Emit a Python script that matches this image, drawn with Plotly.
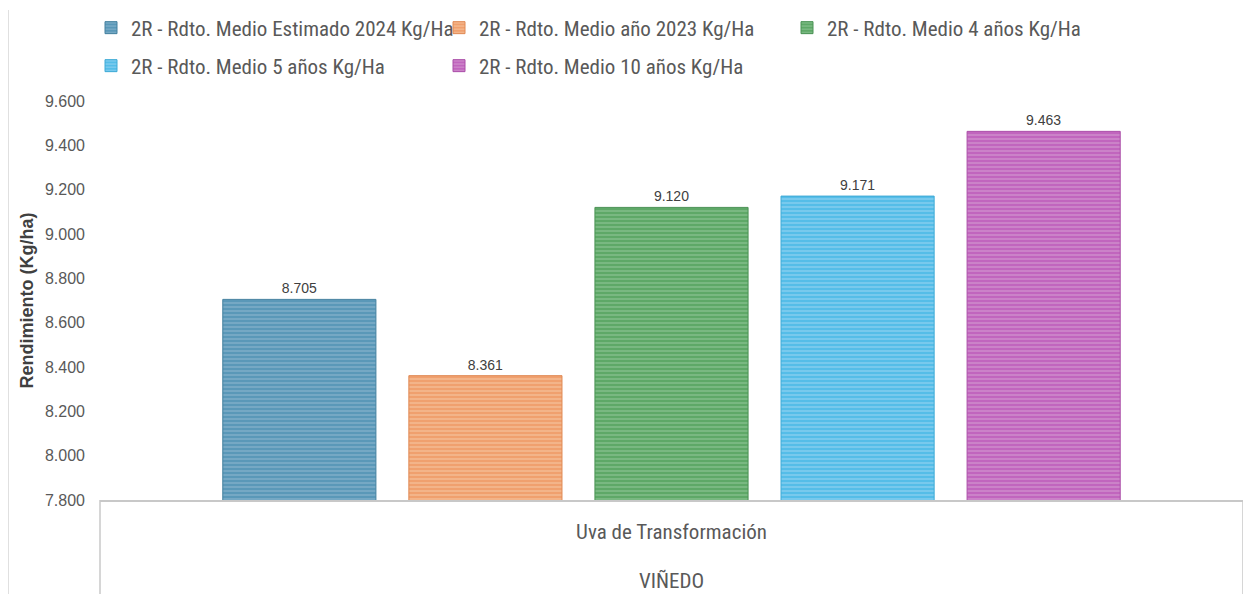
import plotly.graph_objects as go

categories = ["Uva de Transformación"]
group_label = "VIÑEDO"
series_names = [
    "2R - Rdto. Medio Estimado 2024 Kg/Ha",
    "2R - Rdto. Medio año 2023 Kg/Ha",
    "2R - Rdto. Medio 4 años Kg/Ha",
    "2R - Rdto. Medio 5 años Kg/Ha",
    "2R - Rdto. Medio 10 años Kg/Ha",
]
values_2024 = [8705]
values_2023 = [8361]
values_4y = [9120]
values_5y = [9171]
values_10y = [9463]
tick_vals = [7800, 8000, 8200, 8400, 8600, 8800, 9000, 9200, 9400, 9600]

base_colors = ["#5a98b8", "#f0a06e", "#5ea867", "#55bde8", "#c165be"]
light_colors = ["#78aac6", "#f4b68c", "#7cba84", "#7ccbee", "#cd85ca"]
line_colors = ["#44809f", "#e08a55", "#4a9254", "#3eaad6", "#ab4ea8"]
legend_ids = ["legend", "legend", "legend", "legend2", "legend2"]

all_values = [values_2024, values_2023, values_4y, values_5y, values_10y]

narrow = "Liberation Sans Narrow, Roboto Condensed, Arial Narrow, sans-serif"
fig = go.Figure()
for name, vals, bc, lc, oc, lg in zip(series_names, all_values, base_colors, light_colors, line_colors, legend_ids):
    fig.add_trace(go.Bar(
        x=categories, y=vals, name=name, legend=lg,
        marker=dict(color=bc, line=dict(color=oc, width=1),
                    pattern=dict(shape="-", size=4, solidity=0.45, fgcolor=lc, bgcolor=bc, fillmode="replace")),
        texttemplate="%{y:,.0f}", textposition="outside",
        textfont=dict(family="Liberation Sans, Arial", size=14, color="#404040"),
        cliponaxis=False,
    ))

W, H = 1243, 586
L, R, T, B = 92, 8, 93, 94
ph = H - T - B
pw = W - L - R

def py(fy):
    return 1 + (T - fy) / ph

def px(fx):
    return (fx - L) / pw

legend_common = dict(orientation="h", xanchor="left", yanchor="middle",
                     xref="container", yref="container",
                     entrywidth=303, entrywidthmode="pixels", itemwidth=30,
                     font=dict(family=narrow, size=21, color="#595959"),
                     traceorder="normal", bgcolor="rgba(0,0,0,0)")

fig.update_layout(
    width=W, height=H,
    barmode="group", bargap=0.186, bargroupgap=0.177,
    separators=",.",
    plot_bgcolor="white", paper_bgcolor="white",
    margin=dict(l=L, r=R, t=T, b=B, autoexpand=False),
    showlegend=True,
    legend=dict(x=83 / W, y=1 - 20 / H, **legend_common),
    legend2=dict(x=83 / W, y=1 - 58 / H, **legend_common),
    yaxis=dict(range=[7800, 9600], tickvals=tick_vals, tickformat=",.0f",
               showgrid=False, zeroline=False, showline=False,
               tickfont=dict(family="Liberation Sans, Arial", size=16, color="#595959"),
               ticks="", ticklabelstandoff=14,
               title=dict(text="<b>Rendimiento (Kg/ha)</b>", standoff=6,
                          font=dict(family="Liberation Sans, Arial", size=18, color="#404040"))),
    xaxis=dict(showgrid=False, showline=True, linecolor="#c8c8c8", linewidth=1.5,
               ticks="", tickfont=dict(family=narrow, size=21, color="#595959"),
               ticklabelstandoff=12),
)

fig.add_annotation(text=group_label, xref="paper", yref="paper", x=0.5, y=py(573),
                   yanchor="middle", showarrow=False,
                   font=dict(family=narrow, size=21, color="#595959"))
for xp in [0, 1]:
    fig.add_shape(type="line", xref="paper", yref="paper", x0=xp, x1=xp, y0=0, y1=py(H),
                  line=dict(color="#c8c8c8", width=1.5))
fig.add_shape(type="line", xref="paper", yref="paper", x0=px(0.5), x1=px(0.5), y0=py(H), y1=py(2),
              line=dict(color="#e0e0e0", width=1))

fig.write_html("out.html")
